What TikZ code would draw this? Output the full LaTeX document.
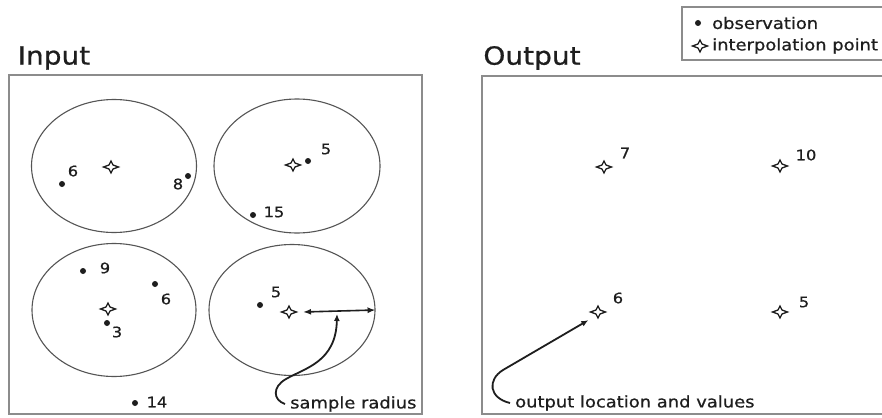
\documentclass[tikz,border=0pt]{standalone}
\usepackage{fontspec}
\setmainfont{DejaVu Sans}[FakeStretch=1.12,FakeBold=0.7]
\usetikzlibrary{arrows.meta,shapes.geometric}
\definecolor{boxgray}{HTML}{8C8C8C}
\definecolor{ellgray}{HTML}{555555}
\definecolor{ink}{HTML}{1E1E1E}
\tikzset{
  frame/.style={draw=boxgray, line width=1.8pt},
  ell/.style={ellipse, draw=ellgray, line width=1.1pt, inner sep=0pt},
  obs/.style={circle, fill=ink, inner sep=0pt, minimum size=6pt},
  ipt/.style={inner sep=0pt, minimum width=19pt, minimum height=16pt,
    path picture={\begin{scope}[shift={(path picture bounding box.center)}]
      \draw[ink, line width=1.3pt, fill=white, line join=miter]
        (0pt,6pt) -- (2pt,2pt) -- (7.5pt,0pt) -- (2pt,-2pt) --
        (0pt,-6pt) -- (-2pt,-2pt) -- (-7.5pt,0pt) -- (-2pt,2pt) -- cycle;
    \end{scope}}},
  num/.style={text=ink, font=\fontsize{14.5}{16}\selectfont, inner sep=0pt},
  lbl/.style={text=ink, font=\fontsize{16}{18}\selectfont, inner sep=0pt},
  ttl/.style={text=ink, font=\fontsize{25}{28}\selectfont, inner sep=0pt},
  curvearrow/.style={ink, line width=1.8pt, -{Latex[length=7pt,width=6pt]}},
  dblarrow/.style={ink, line width=1.6pt, {Latex[length=8pt,width=6pt]}-{Latex[length=8pt,width=6pt]}}
}
\begin{document}
\begin{tikzpicture}[x=1pt,y=-1pt]
\useasboundingbox (0,0) rectangle (882,417);
\clip (0,0) rectangle (882,417);
\fill[white] (0,0) rectangle (882,417);

% titles
\node[ttl] (tin) at (54,58) {Input};
\node[ttl] (tout) at (532,58) {Output};

% frames
\draw[frame] (9,75) rectangle (422,414);
\draw[frame] (886,76) -- (482,76) -- (482,414) -- (886,414);
\draw[boxgray, line width=1.3pt] (886,7) -- (682,7) -- (682,60) -- (886,60);

% legend
\node[obs] (lgo) at (698,23) {};
\node[lbl, anchor=west] (lgot) at (712,23) {observation};
\node[ipt] (lgi) at (700,46) {};
\node[lbl, anchor=west] (lgit) at (712,46) {interpolation point};

% ellipses
\node[ell, minimum width=165pt, minimum height=133pt] (e1) at (114,166) {};
\node[ell, minimum width=166pt, minimum height=134pt] (e2) at (297,166) {};
\node[ell, minimum width=164pt, minimum height=133pt] (e3) at (114,310) {};
\node[ell, minimum width=166pt, minimum height=131pt] (e4) at (292,310) {};

% interpolation points (input)
\node[ipt] (p1) at (111,167) {};
\node[ipt] (p2) at (293,165) {};
\node[ipt] (p3) at (108,309) {};
\node[ipt] (p4) at (289,312) {};

% observations
\node[obs] (o1) at (62,184) {};  \node[num] (n1) at (73,171) {6};
\node[obs] (o2) at (188,176) {}; \node[num] (n2) at (178,184) {8};
\node[obs] (o3) at (308,161) {}; \node[num] (n3) at (326,149) {5};
\node[obs] (o4) at (253,215) {}; \node[num] (n4) at (274,212) {15};
\node[obs] (o5) at (83,271) {};  \node[num] (n5) at (105,268) {9};
\node[obs] (o6) at (155,284) {}; \node[num] (n6) at (166,299) {6};
\node[obs] (o7) at (107,323) {}; \node[num] (n7) at (117,332) {3};
\node[obs] (o8) at (260,305) {}; \node[num] (n8) at (276,292) {5};
\node[obs] (o9) at (135,403) {}; \node[num] (n9) at (157,402) {14};

% sample radius
\coordinate (ra) at (303,312);
\draw[dblarrow] (ra) -- (e4.east);
\coordinate (rm) at (337,314);
\node[lbl, anchor=west] (sr) at (290,404) {sample radius};
\draw[curvearrow] ([xshift=-5pt]sr.west) .. controls (273,400) and (272,387) .. (286,379)
  .. controls (305,368) and (336,362) .. (rm);

% output points
\node[ipt] (q1) at (604,167) {}; \node[num] (m1) at (625,153) {7};
\node[ipt] (q2) at (780,166) {}; \node[num] (m2) at (806,155) {10};
\node[ipt] (q3) at (598,312) {}; \node[num] (m3) at (618,298) {6};
\node[ipt] (q4) at (780,312) {}; \node[num] (m4) at (804,302) {5};

\node[lbl, anchor=west] (ol) at (515,403) {output location and values};
\draw[curvearrow] ([xshift=-5pt]ol.west) .. controls (489,398) and (487,380) .. (503,370)
  -- (q3.south west);
\end{tikzpicture}
\end{document}
